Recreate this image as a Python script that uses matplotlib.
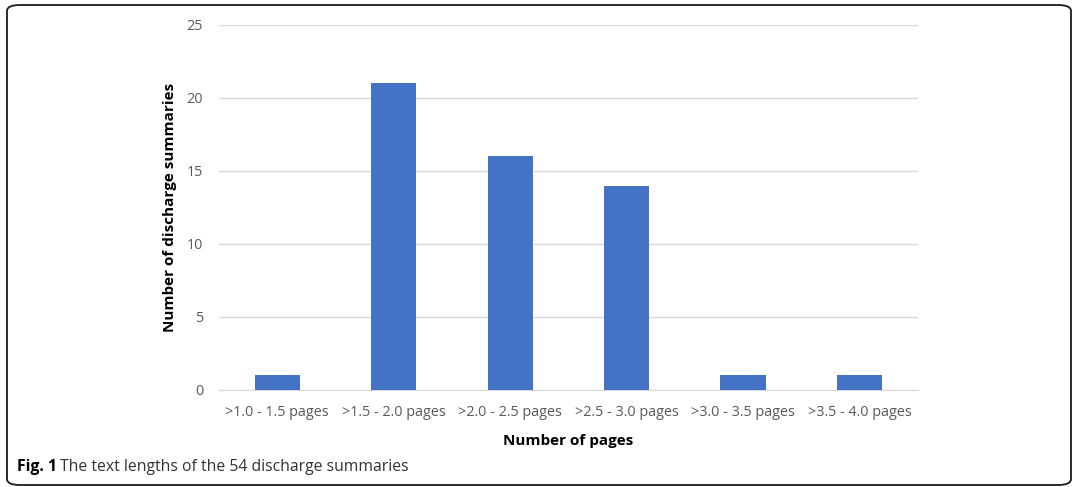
import numpy as np
import matplotlib.pyplot as plt
from matplotlib.patches import FancyBboxPatch

# data
categories = ['>1.0 - 1.5 pages', '>1.5 - 2.0 pages', '>2.0 - 2.5 pages',
              '>2.5 - 3.0 pages', '>3.0 - 3.5 pages', '>3.5 - 4.0 pages']
counts = [1, 21, 16, 14, 1, 1]
yticks = [0, 5, 10, 15, 20, 25]

plt.rcParams['font.family'] = ['Open Sans', 'DejaVu Sans']

fig = plt.figure(figsize=(10.73, 4.87), dpi=100)
ax = fig.add_axes([0.2041, 0.1992, 0.6514, 0.7495])

x = np.arange(len(categories))
ax.bar(x, counts, width=0.39, color='#4472c4', zorder=3)

ax.set_xlim(-0.5, len(categories) - 0.5)
ax.set_ylim(0, 25)
ax.set_yticks(yticks)
ax.set_xticks(x)
ax.set_xticklabels(categories)
ax.tick_params(length=0, colors='#595959', labelsize=10.4)
ax.tick_params(axis='y', pad=11.5)
ax.tick_params(axis='x', pad=11)
ax.grid(axis='y', color='#d9d9d9', linewidth=1, zorder=0)
for s in ['top', 'right', 'left']:
    ax.spines[s].set_visible(False)
ax.spines['bottom'].set_color('#d9d9d9')

ax.set_ylabel('Number of discharge summaries', fontsize=11, fontweight='bold', labelpad=7)
ax.set_xlabel('Number of pages', fontsize=11, fontweight='bold', labelpad=10)

# caption
fig.text(17 / 1073, 1 - 467 / 487, 'Fig. 1', fontsize=11.3, fontweight='bold', va='center')
fig.text(60 / 1073, 1 - 467 / 487, 'The text lengths of the 54 discharge summaries',
         fontsize=11.3, color='#333333', va='center')

# rounded frame
frame = FancyBboxPatch((7 / 1073, 2 / 487), 1064 / 1073, 480 / 487,
                       boxstyle='round,pad=0,rounding_size=0.012',
                       transform=fig.transFigure, fill=False,
                       edgecolor='#1a1a1a', linewidth=1.3)
fig.patches.append(frame)

fig.savefig('out.png', dpi=100)
